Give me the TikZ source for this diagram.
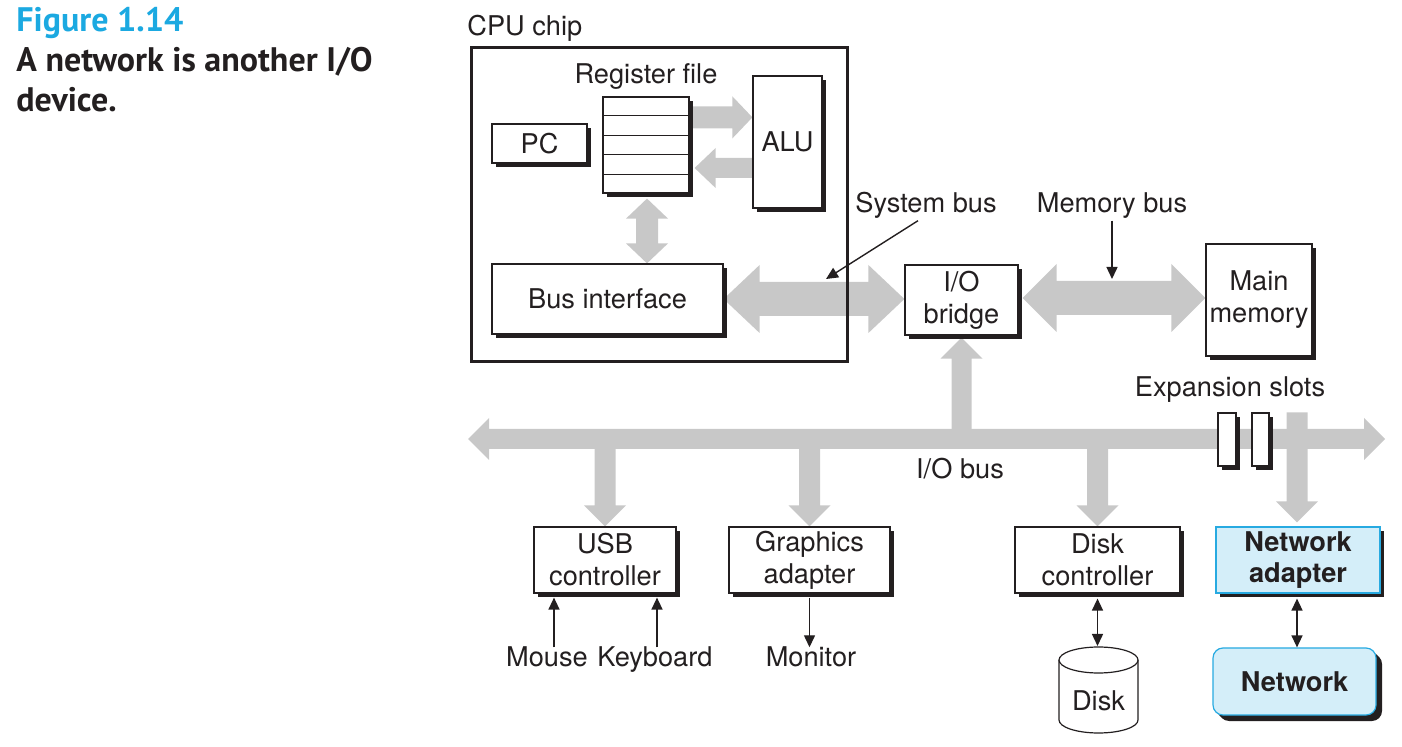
\documentclass[tikz,border=0pt]{standalone}
\usepackage{fontspec}
\setmainfont{TeX Gyre Heros}
\newfontfamily\capfont{PT Sans}
\usepackage{tikz}
\usetikzlibrary{calc,arrows.meta,shadows,backgrounds}
\definecolor{busgray}{HTML}{C8C8C8}
\definecolor{netfill}{HTML}{D4EEF9}
\definecolor{netedge}{HTML}{27AAE1}
\definecolor{figcyan}{HTML}{1BA9E1}
\definecolor{inkblack}{HTML}{231F20}

% fat gray bus arrows (shaft half, head half, head length in px)
\newcommand{\fatH}[5]{%
  \fill[busgray] ($(#1)+(0,-#3)$) -- ($(#2)+({-(#5)},-#3)$) -- ($(#2)+({-(#5)},-#4)$) -- (#2)
    -- ($(#2)+({-(#5)},#4)$) -- ($(#2)+({-(#5)},#3)$) -- ($(#1)+(0,#3)$) -- cycle;}
\newcommand{\fatHH}[5]{%
  \fill[busgray] (#1) -- ($(#1)+(#5,-#4)$) -- ($(#1)+(#5,-#3)$) -- ($(#2)+(-#5,-#3)$)
    -- ($(#2)+(-#5,-#4)$) -- (#2) -- ($(#2)+(-#5,#4)$) -- ($(#2)+(-#5,#3)$)
    -- ($(#1)+(#5,#3)$) -- ($(#1)+(#5,#4)$) -- cycle;}
\newcommand{\fatV}[5]{%
  \fill[busgray] ($(#1)+(-#3,0)$) -- ($(#2)+(-#3,{-(#5)})$) -- ($(#2)+(-#4,{-(#5)})$) -- (#2)
    -- ($(#2)+(#4,{-(#5)})$) -- ($(#2)+(#3,{-(#5)})$) -- ($(#1)+(#3,0)$) -- cycle;}
\newcommand{\fatVV}[5]{%
  \fill[busgray] (#1) -- ($(#1)+(-#4,#5)$) -- ($(#1)+(-#3,#5)$) -- ($(#2)+(-#3,-#5)$)
    -- ($(#2)+(-#4,-#5)$) -- (#2) -- ($(#2)+(#4,-#5)$) -- ($(#2)+(#3,-#5)$)
    -- ($(#1)+(#3,#5)$) -- ($(#1)+(#4,#5)$) -- cycle;}

\tikzset{
  unit/.style={draw=inkblack, fill=white, line width=0.6pt, inner sep=0pt, align=center,
    general shadow={fill=inkblack, shadow xshift=2pt, shadow yshift=-2pt}},
  netunit/.style={unit, draw=netedge, fill=netfill, font=\fontsize{13.6}{15.5}\selectfont\bfseries},
  chip/.style={draw=inkblack, line width=1.5pt, inner sep=0pt},
  lbl/.style={inner sep=2pt, text=inkblack, text height=0.72em, text depth=0.21em, yshift=-1.5pt},
  ptr/.style={draw=inkblack, line width=0.7pt, -{Triangle[length=6pt,width=5.5pt]}},
  dptr/.style={draw=inkblack, line width=0.7pt, {Triangle[length=6pt,width=5.5pt]}-{Triangle[length=6pt,width=5.5pt]}}
}

\begin{document}
\begin{tikzpicture}[x=0.5pt, y=-0.5pt, font=\fontsize{13.6}{16}\selectfont, text=inkblack]
  \useasboundingbox (0,0) rectangle (1402,747);

  % caption
  \node[anchor=north west, inner sep=0pt, text=figcyan, font=\capfont\bfseries\fontsize{17}{20}\selectfont] (fignum) at (16,7) {Figure 1.14};
  \node[anchor=north west, inner sep=0pt, align=left, font=\capfont\bfseries\fontsize{17}{20}\selectfont] (figtitle) at (16,47) {A network is another I/O\\device.};

  % CPU chip
  \node[chip, minimum width=188pt, minimum height=157pt] (cpu) at (659,205) {};
  \node[lbl, anchor=west, inner sep=0pt] (cpulbl) at (467,27) {CPU chip};
  \node[unit, minimum width=43pt, minimum height=48pt] (rf) at (646,145) {};
  \foreach \i in {1,...,4}
    \draw[inkblack, line width=0.6pt] ($(rf.north west)!\i/5!(rf.south west)$) -- ($(rf.north east)!\i/5!(rf.south east)$);
  \node[lbl] (rflbl) at (646,75) {Register file};
  \node[unit, minimum width=47.5pt, minimum height=19.5pt] (pc) at (539.5,143.5) {PC};
  \node[unit, minimum width=34.5pt, minimum height=66pt] (alu) at (787.5,142) {ALU};
  \node[unit, minimum width=115.5pt, minimum height=35pt] (bif) at (607.5,299) {Bus interface};

  % bridge and memory
  \node[unit, minimum width=56.5pt, minimum height=35pt] (bridge) at (961.5,300) {I/O\\bridge};
  \node[unit, minimum width=53pt, minimum height=56pt] (mem) at (1259,300) {Main\\memory};
  \node[lbl] (sysbus) at (926,204) {System bus};
  \node[lbl] (membus) at (1112,204) {Memory bus};
  \coordinate (sbtip) at (826,279);
  \draw[ptr] ([xshift=-4pt]sysbus.south) -- (sbtip);
  \draw[ptr] (membus.south) -- (membus.south |- sbtip);

  % I/O bus and slots
  \coordinate (busL) at (468,439);
  \coordinate (busR) at (1385,439);
  \node[lbl] (iobus) at (960,470) {I/O bus};
  \node[lbl] (explbl) at (1230,388) {Expansion slots};
  \node[unit, minimum width=9pt, minimum height=26.5pt] (slot1) at (1227,439.5) {};
  \node[unit, minimum width=8.5pt, minimum height=26.5pt] (slot2) at (1260.5,439.5) {};

  % devices
  \node[unit, minimum width=71pt, minimum height=33pt] (usb) at (605,560) {USB\\controller};
  \node[unit, minimum width=80.5pt, minimum height=33pt] (gfx) at (809.5,560) {Graphics\\adapter};
  \node[unit, minimum width=82.5pt, minimum height=33pt] (dc) at (1097.5,560) {Disk\\controller};
  \node[netunit, minimum width=82pt, minimum height=33pt] (na) at (1298,560) {Network\\adapter};
  \node[netunit, rounded corners=5pt, minimum width=81.5pt, minimum height=33.5pt,
    general shadow={fill=inkblack, shadow xshift=3pt, shadow yshift=-3pt}] (net) at (1294.5,681.5) {Network};

  \node[lbl] (mouse) at (547,658) {Mouse};
  \node[lbl] (kbd) at (655,658) {Keyboard};
  \node[lbl] (mon) at (811,658) {Monitor};
  \coordinate (usbs) at ($(usb.south)+(0,4)$);
  \coordinate (gfxs) at ($(gfx.south)+(0,4)$);
  \coordinate (dcs) at ($(dc.south)+(0,5)$);
  \coordinate (nas) at ($(na.south)+(-1,5)$);
  \draw[ptr] ($(mouse.north)+(7,0)$) coordinate (ms) -- (ms |- usbs);
  \draw[ptr] ($(kbd.north)+(2,0)$) coordinate (ks) -- (ks |- usbs);
  \draw[ptr] ($(gfxs)+(0,0)$) -- (gfxs |- mon.north);

  % disk
  \draw[inkblack, fill=white, line width=0.6pt] (1059,660) -- (1059,720)
    arc[start angle=180, end angle=360, x radius=19.75pt, y radius=6.5pt] -- (1138,660);
  \draw[inkblack, fill=white, line width=0.6pt] (1098.5,660) ellipse [x radius=19.75pt, y radius=6.5pt];
  \node[lbl] (disk) at (1098.5,702) {Disk};
  \coordinate (disktop) at (1098.5,646);
  \draw[dptr] (dcs) -- (dcs |- disktop);
  \draw[dptr] (nas) -- (nas |- net.north);

  % gray buses
  \begin{scope}[on background layer]
    \coordinate (rfa) at ([yshift=-10.5pt]rf.north east);
    \fatH{rfa}{alu.west |- rfa}{11}{21}{20}
    \coordinate (alub) at ([yshift=-13pt]alu.west);
    \coordinate (rfb) at ($(rf.east |- alub)+(5,0)$);
    \fatH{alub}{rfb}{10}{20}{-21}
    \coordinate (rfs) at ($(rf.south)+(1,5)$);
    \fatVV{rfs}{rfs |- bif.north}{11}{21}{20}
    \fatHH{bif.east}{bif.east -| bridge.west}{17}{34}{36}
    \coordinate (brE) at ($(bridge.east)+(4,-2)$);
    \fatHH{brE}{brE -| mem.west}{17}{34}{34}
    \fatHH{busL}{busR}{10}{21}{21}
    \coordinate (brS) at ($(bridge.south)+(0,2)$);
    \fatV{brS |- busL}{brS}{10}{21}{-21}
    \foreach \dev in {usb,gfx,dc}
      \fatV{\dev.north |- busL}{\dev.north}{10.5}{21}{21};
    \coordinate (naN) at ($(na.north)+(-1,-4)$);
    \fatV{naN |- slot1.north}{naN}{10.5}{21}{21}
  \end{scope}
\end{tikzpicture}
\end{document}
